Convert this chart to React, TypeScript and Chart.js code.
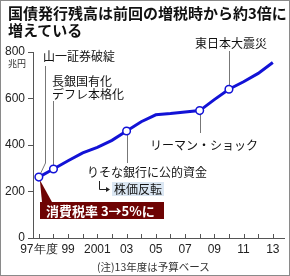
import React, { useEffect, useRef } from "react";
import { Chart, registerables } from "chart.js";

Chart.register(...registerables);

// ---- data ----
const years = [1997, 1998, 1999, 2000, 2001, 2002, 2003, 2004, 2005, 2006, 2007, 2008, 2009, 2010, 2011, 2012, 2013];
const debt = [262, 297, 332, 366, 390, 420, 460, 500, 530, 535, 542, 548, 595, 640, 672, 708, 755];
const markedYears = [1997, 1998, 2003, 2008, 2010];
const yTicks = [0, 200, 400, 600, 800];
const labeledYears = [1997, 1999, 2001, 2003, 2005, 2007, 2009, 2011, 2013];

const titleLines = ["国債発行残高は前回の増税時から約3倍に", "増えている"];
const unitLabel = "兆円";
const noteText = "(注)13年度は予算ベース";
const evYamaichi = "山一証券破綻";
const evChogin = ["長銀国有化", "デフレ本格化"];
const evResona = "りそな銀行に公的資金";
const evKabuka = "株価反転";
const evLehman = "リーマン・ショック";
const evShinsai = "東日本大震災";
const evTax = "消費税率 3→5%に";

const JP = '"Noto Sans CJK JP", "Noto Sans", sans-serif';
const NUM = '"Liberation Sans Narrow", "Liberation Sans", Arial, sans-serif';
const BLUE = "#1212d6";

function xLabel(y: number): string {
  if (!labeledYears.includes(y)) return "";
  if (y === 1997) return "97年度";
  if (y === 2001) return "2001";
  return String(y % 100).padStart(2, "0");
}

const annotationPlugin = {
  id: "events",
  beforeDatasetsDraw(chart: any) {
    const { ctx, scales, chartArea } = chart;
    const xs = scales.x;
    const ys = scales.y;
    const pt = (yr: number) => {
      const i = years.indexOf(yr);
      return { x: xs.getPixelForValue(yr), y: ys.getPixelForValue(debt[i]) };
    };
    ctx.save();
    // upward minor ticks on x axis
    ctx.strokeStyle = "#555";
    ctx.lineWidth = 1;
    for (const t of xs.ticks) {
      const x = Math.round(xs.getPixelForValue(t.value)) + 0.5;
      ctx.beginPath();
      ctx.moveTo(x, chartArea.bottom);
      ctx.lineTo(x, chartArea.bottom - 4);
      ctx.stroke();
    }
    // connectors
    ctx.strokeStyle = "#777";
    const p97 = pt(1997);
    const p98 = pt(1998);
    const p03 = pt(2003);
    const p08 = pt(2008);
    const p10 = pt(2010);
    ctx.beginPath();
    ctx.moveTo(p97.x, p97.y);
    ctx.lineTo(45.5, 163);
    ctx.lineTo(45.5, 66);
    ctx.stroke();
    const x98 = Math.round(p98.x) + 0.5;
    ctx.beginPath();
    ctx.moveTo(x98, p98.y);
    ctx.lineTo(x98, 101);
    ctx.stroke();
    const x03 = Math.round(p03.x) + 0.5;
    ctx.beginPath();
    ctx.moveTo(x03, p03.y);
    ctx.lineTo(x03, 163);
    ctx.stroke();
    const x08 = Math.round(p08.x) + 0.5;
    ctx.beginPath();
    ctx.moveTo(x08, p08.y);
    ctx.lineTo(x08, 133);
    ctx.stroke();
    const x10 = Math.round(p10.x) + 0.5;
    ctx.beginPath();
    ctx.moveTo(x10, p10.y);
    ctx.lineTo(x10, 51);
    ctx.stroke();

    // consumption tax callout
    ctx.fillStyle = "#6e0303";
    ctx.beginPath();
    ctx.moveTo(p97.x + 1, p97.y + 3);
    ctx.lineTo(52, 202);
    ctx.lineTo(42, 202);
    ctx.closePath();
    ctx.fill();
    ctx.fillRect(40, 202, 124, 17);
    ctx.fillStyle = "#fff";
    ctx.font = `bold 13px ${JP}`;
    ctx.textBaseline = "middle";
    ctx.textAlign = "left";
    ctx.fillText(evTax, 46, 211);

    // stock reversal
    ctx.strokeStyle = "#222";
    ctx.beginPath();
    ctx.moveTo(99.5, 181);
    ctx.lineTo(99.5, 189.5);
    ctx.lineTo(107, 189.5);
    ctx.stroke();
    ctx.fillStyle = "#222";
    ctx.beginPath();
    ctx.moveTo(110, 189.5);
    ctx.lineTo(106, 187);
    ctx.lineTo(106, 192);
    ctx.closePath();
    ctx.fill();
    ctx.fillStyle = "#dbe7f3";
    ctx.fillRect(112, 182, 52, 14);
    ctx.fillStyle = "#111";
    ctx.font = `12px ${JP}`;
    ctx.fillText(evKabuka, 114, 189);

    // texts
    ctx.fillText(evYamaichi, 43, 56);
    ctx.fillText(evChogin[0], 52, 81);
    ctx.fillText(evChogin[1], 52, 94);
    ctx.fillText(evResona, 87, 172);
    ctx.textAlign = "center";
    ctx.fillText(evLehman, 204, 145);
    ctx.fillText(evShinsai, 231, 43);
    ctx.restore();
  },
};

export default function App() {
  const ref = useRef<HTMLCanvasElement | null>(null);
  useEffect(() => {
    if (!ref.current) return;
    const chart = new Chart(ref.current, {
      type: "line",
      data: {
        datasets: [
          {
            data: years.map((y, i) => ({ x: y, y: debt[i] })),
            borderColor: BLUE,
            borderWidth: 3,
            tension: 0,
            pointRadius: years.map((y) => (markedYears.includes(y) ? 3.8 : 0)),
            pointBackgroundColor: "#fff",
            pointBorderColor: BLUE,
            pointBorderWidth: 1.5,
          },
        ],
      },
      options: {
        responsive: false,
        animation: false,
        layout: { padding: { top: 52, right: 1, left: 0, bottom: 0 } },
        plugins: { legend: { display: false }, tooltip: { enabled: false }, title: { display: false } },
        scales: {
          x: {
            type: "linear",
            min: 1996.6,
            max: 2013.8,
            afterBuildTicks: (s: any) => {
              s.ticks = years.map((v) => ({ value: v }));
            },
            afterFit: (s: any) => {
              s.height = 38;
            },
            grid: { display: true, drawOnChartArea: false, drawTicks: false },
            border: { display: true, color: "#555", width: 1 },
            ticks: {
              autoSkip: false,
              maxRotation: 0,
              padding: 4,
              color: "#222",
              font: { family: NUM, size: 12 },
              callback: (v: any) => xLabel(Number(v)),
            },
          },
          y: {
            min: 0,
            max: 800,
            afterBuildTicks: (s: any) => {
              s.ticks = yTicks.map((v) => ({ value: v }));
            },
            afterFit: (s: any) => {
              s.width = 33;
            },
            grid: { drawOnChartArea: false, drawTicks: true, tickLength: 5, color: "#555" },
            border: { display: true, color: "#555", width: 1 },
            ticks: {
              padding: 3,
              color: "#222",
              font: { family: NUM, size: 12 },
            },
          },
        },
      },
      plugins: [annotationPlugin],
    });
    return () => chart.destroy();
  }, []);

  return (
    <div style={{ position: "fixed", left: 0, top: 0, width: 290, height: 276, background: "#fff", overflow: "hidden" }}>
      <canvas ref={ref} width={290} height={276} style={{ position: "absolute", left: 0, top: 0 }} />
      <div
        style={{
          position: "absolute",
          left: 8,
          top: 4,
          fontFamily: JP,
          fontWeight: "bold",
          fontSize: 15,
          lineHeight: "17px",
          color: "#111",
          whiteSpace: "nowrap",
        }}
      >
        {titleLines[0]}
        <br />
        {titleLines[1]}
      </div>
      <div style={{ position: "absolute", left: 8, top: 58, fontFamily: JP, fontSize: 9, lineHeight: "12px", color: "#333" }}>
        {unitLabel}
      </div>
      <div
        style={{
          position: "absolute",
          left: 97,
          top: 260,
          fontFamily: JP,
          fontSize: 10.5,
          lineHeight: "14px",
          color: "#333",
          whiteSpace: "nowrap",
        }}
      >
        {noteText}
      </div>
      <div style={{ position: "absolute", left: 0, top: 0, width: 290, height: 276, boxSizing: "border-box", border: "1px solid #8a8a8a", pointerEvents: "none" }} />
    </div>
  );
}
